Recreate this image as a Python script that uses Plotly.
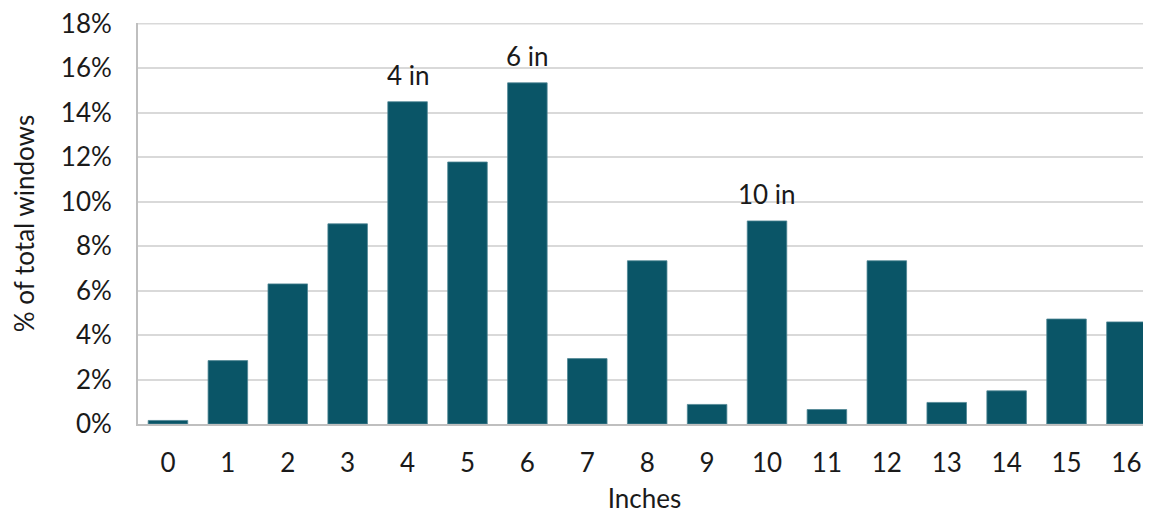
import plotly.graph_objects as go

inches = list(range(17))
tick_labels = [str(i) for i in inches]
pct_windows = [0.16, 2.85, 6.3, 9.0, 14.49, 11.78, 15.34, 2.94, 7.34, 0.88, 9.13, 0.65, 7.34, 0.97, 1.49, 4.72, 4.59]
label_idx = [4, 6, 10]
label_text = ["4 in", "6 in", "10 in"]
y_ticks = [0, 2, 4, 6, 8, 10, 12, 14, 16, 18]
y_tick_labels = [f"{v}%" for v in y_ticks]

BAR = "#0a5567"
FONT = "Lato, 'Open Sans', sans-serif"
TXT = "#1a1a1a"
GRID = "#d9d9d9"

fig = go.Figure(go.Bar(
    x=inches, y=pct_windows, width=0.66,
    marker=dict(color=BAR, line=dict(color="#4f8694", width=0.8)),
    hoverinfo="skip",
))

for i, t in zip(label_idx, label_text):
    fig.add_annotation(x=inches[i], y=pct_windows[i], text=t, showarrow=False,
                       yanchor="middle", yshift=27,
                       font=dict(size=26, color=TXT, family=FONT))

# top gridline (plotly skips the grid line at the very edge of the plot area)
fig.add_shape(type="line", xref="paper", x0=0, x1=1, yref="y", y0=y_ticks[-1], y1=y_ticks[-1],
              line=dict(color=GRID, width=1.5), layer="below")

# page body has an 8px default margin, so the figure is sized to fill the rest
fig.update_layout(
    width=1143, height=506,
    margin=dict(l=130, r=0, t=15, b=90),
    plot_bgcolor="white", paper_bgcolor="white",
    showlegend=False,
    font=dict(family=FONT, color=TXT),
)
fig.update_xaxes(
    automargin=False,
    range=[-0.5, 16.41], tickmode="array", tickvals=inches, ticktext=tick_labels,
    showline=True, linecolor="#bfbfbf", linewidth=2, showgrid=False, zeroline=False,
    ticks="", ticklabelstandoff=15, tickfont=dict(size=26, family=FONT, color=TXT),
    title=dict(text="Inches", font=dict(size=26, family=FONT, color=TXT), standoff=19),
)
fig.update_yaxes(
    automargin=False,
    range=[0, 18.03], tickmode="array", tickvals=y_ticks, ticktext=y_tick_labels,
    ticklabeloverflow="allow",
    showline=True, linecolor="#bfbfbf", linewidth=2,
    showgrid=True, gridcolor=GRID, gridwidth=1.5, zeroline=False,
    ticks="", ticklabelstandoff=19, tickfont=dict(size=26, family=FONT, color=TXT),
    title=dict(text="% of total windows", font=dict(size=26, family=FONT, color=TXT), standoff=32),
)

fig.write_html("out.html")
